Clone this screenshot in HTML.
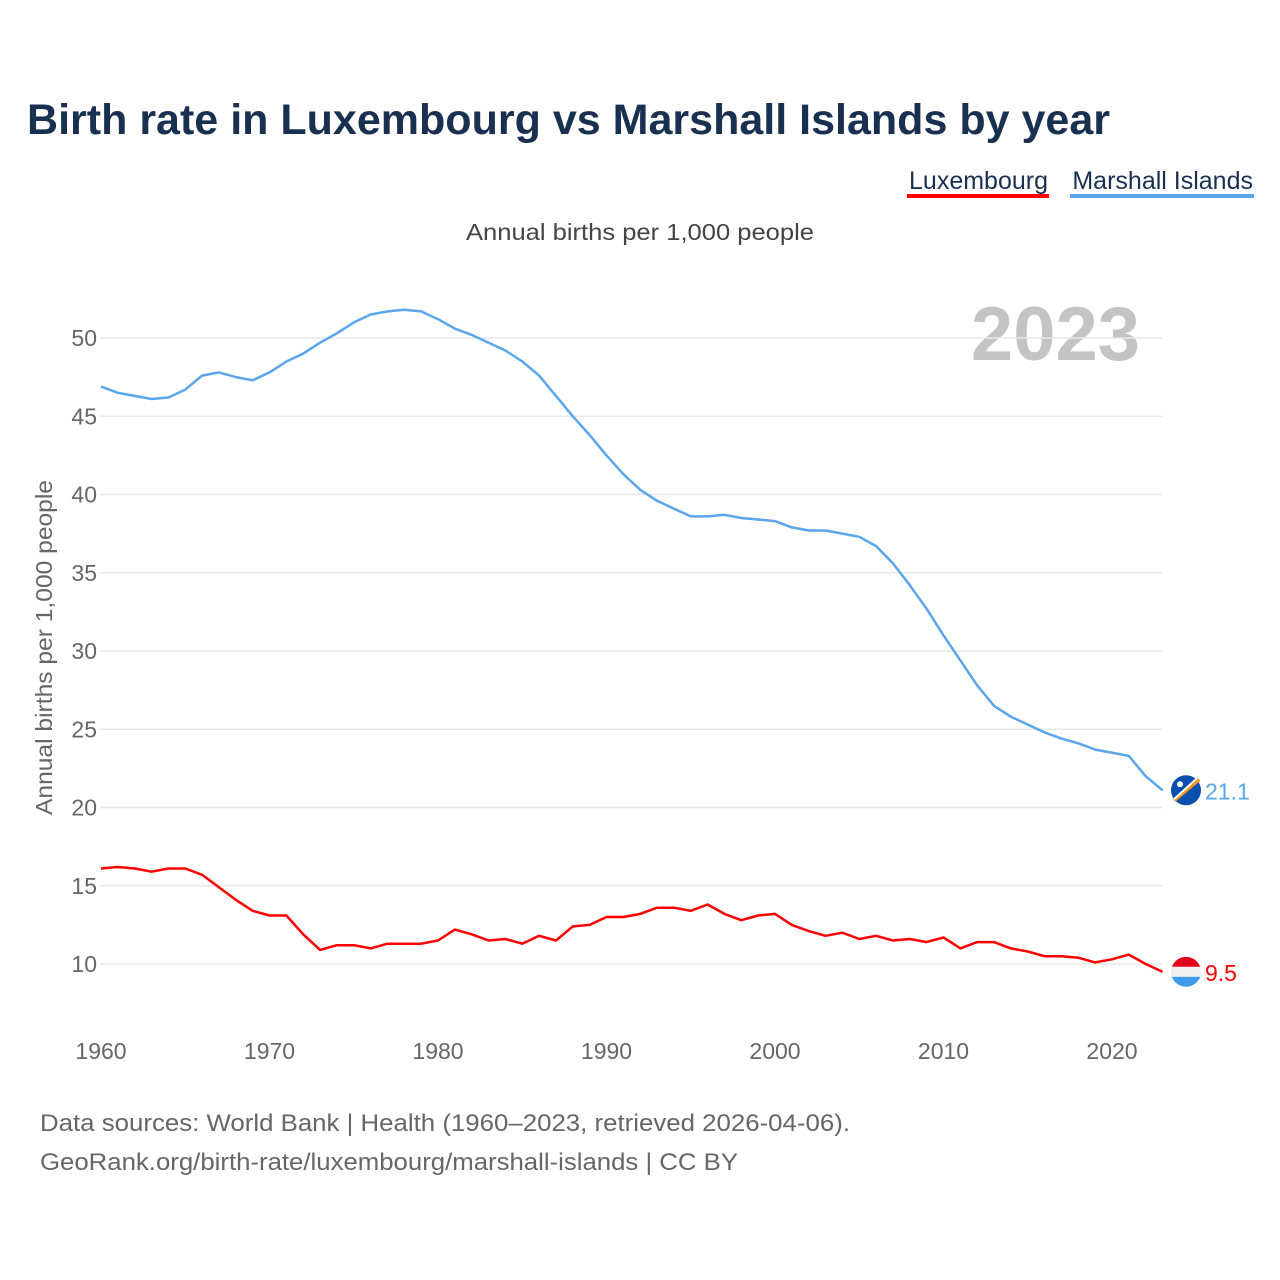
<!DOCTYPE html>
<html><head><meta charset="utf-8">
<style>
body{margin:0;background:#fff;font-family:"Liberation Sans",sans-serif;}
#wrap{position:relative;width:1280px;height:1280px;overflow:hidden;}
</style></head>
<body>
<div id="wrap">
<svg id="chart" width="1280" height="1280" style="position:absolute;left:0;top:0">
<text x="27" y="134" font-size="43" font-weight="bold" fill="#1a3050" textLength="1083" lengthAdjust="spacingAndGlyphs">Birth rate in Luxembourg vs Marshall Islands by year</text>
<g>
<text x="1048" y="189" font-size="25" fill="#1a3050" text-anchor="end">Luxembourg</text>
<rect x="907" y="194" width="142" height="4" fill="#ff0000"/>
<text x="1253" y="189" font-size="25" fill="#1a3050" text-anchor="end">Marshall Islands</text>
<rect x="1070" y="194" width="184" height="4" fill="#5aa5ec"/>
</g>
<text x="466" y="240" font-size="23" fill="#444" textLength="348" lengthAdjust="spacingAndGlyphs">Annual births per 1,000 people</text>
<text x="1140" y="360" font-size="76" font-weight="bold" fill="#c4c4c4" text-anchor="end">2023</text>
<text transform="translate(52,815) rotate(-90)" font-size="23" fill="#666" textLength="335" lengthAdjust="spacingAndGlyphs">Annual births per 1,000 people</text>
<g id="grid"></g><g id="yticks"></g><g id="xticks"></g><g id="lines"></g>
<text x="40" y="1131" font-size="24" fill="#666" textLength="810" lengthAdjust="spacingAndGlyphs">Data sources: World Bank | Health (1960–2023, retrieved 2026-04-06).</text>
<text x="40" y="1170" font-size="24" fill="#666" textLength="698" lengthAdjust="spacingAndGlyphs">GeoRank.org/birth-rate/luxembourg/marshall-islands | CC BY</text>
</svg>
</div>
<script>
const years = [];
for (let y = 1960; y <= 2023; y++) years.push(y);
const luxembourg = [16.1,16.2,16.1,15.9,16.1,16.1,15.7,14.9,14.1,13.4,
13.1,13.1,11.9,10.9,11.2,11.2,11.0,11.3,11.3,11.3,
11.5,12.2,11.9,11.5,11.6,11.3,11.8,11.5,12.4,12.5,
13.0,13.0,13.2,13.6,13.6,13.4,13.8,13.2,12.8,13.1,
13.2,12.5,12.1,11.8,12.0,11.6,11.8,11.5,11.6,11.4,
11.7,11.0,11.4,11.4,11.0,10.8,10.5,10.5,10.4,10.1,
10.3,10.6,10.0,9.5];
const marshall = [46.9,46.5,46.3,46.1,46.2,46.7,47.6,47.8,47.5,47.3,
47.8,48.5,49.0,49.7,50.3,51.0,51.5,51.7,51.8,51.7,
51.2,50.6,50.2,49.7,49.2,48.5,47.6,46.3,45.0,43.8,
42.5,41.3,40.3,39.6,39.1,38.6,38.6,38.7,38.5,38.4,
38.3,37.9,37.7,37.7,37.5,37.3,36.7,35.6,34.2,32.7,
31.0,29.4,27.8,26.5,25.8,25.3,24.8,24.4,24.1,23.7,
23.5,23.3,22.0,21.1];
const yTicks = [10,15,20,25,30,35,40,45,50];
const xTicks = [1960,1970,1980,1990,2000,2010,2020];
const NS = "http://www.w3.org/2000/svg";
const xS = v => 101 + (v - 1960) * (1112 - 101) / 60;
const yS = v => 964 - (v - 10) * (964 - 338) / 40;
function mk(tag, attrs, parent){const e=document.createElementNS(NS,tag);for(const k in attrs)e.setAttribute(k,attrs[k]);parent.appendChild(e);return e;}
const grid=document.getElementById('grid'), yt=document.getElementById('yticks'), xt=document.getElementById('xticks'), lines=document.getElementById('lines');
yTicks.forEach(t=>{
  const l=mk('line',{x1:100,x2:1162,y1:yS(t),y2:yS(t),stroke:'#e8e8e8','stroke-width':1.5},grid);
  
  
  const tx=mk('text',{x:97,y:yS(t)+8,'font-size':23,fill:'#666','text-anchor':'end'},yt);
  tx.textContent=t;
  
  
});
xTicks.forEach(t=>{
  const tx=mk('text',{x:xS(t),y:1059,'font-size':23,fill:'#666','text-anchor':'middle'},xt);
  tx.textContent=t;
  
  
});
function drawLine(vals,color,name){
  const d=vals.map((v,i)=>(i?'L':'M')+xS(years[i]).toFixed(1)+','+yS(v).toFixed(1)).join(' ');
  const p=mk('path',{d:d,fill:'none',stroke:color,'stroke-width':2.5,'stroke-linejoin':'round'},lines);
  
  
}
drawLine(marshall,'#5aa5ec','marshall-islands');
drawLine(luxembourg,'#ff0000','luxembourg');
const lastM=marshall[marshall.length-1], lastL=luxembourg[luxembourg.length-1];
const fx=1186;
const gm=mk('g',{},lines);


mk('circle',{cx:fx,cy:yS(lastM),r:15,fill:'#0a4fad'},gm);
mk('line',{x1:fx-12,x2:fx+13,y1:yS(lastM)+10,y2:yS(lastM)-11,stroke:'#f7941d','stroke-width':4},gm);
mk('line',{x1:fx-12,x2:fx+11,y1:yS(lastM)+9,y2:yS(lastM)-12,stroke:'#fff','stroke-width':2},gm);
mk('circle',{cx:fx-6,cy:yS(lastM)-6,r:3,fill:'#fff'},gm);
const tm=mk('text',{x:1205,y:yS(lastM)+9,'font-size':23,fill:'#5aa5ec'},lines);
tm.textContent=lastM.toFixed(1);


const gl=mk('g',{},lines);


const cy=yS(lastL);
mk('clipPath',{id:'lc'},gl);
mk('circle',{cx:fx,cy:cy,r:15},document.getElementById('lc'));
mk('rect',{x:fx-15,y:cy-15,width:30,height:10,fill:'#e3001b','clip-path':'url(#lc)'},gl);
mk('rect',{x:fx-15,y:cy-5,width:30,height:10,fill:'#f0f0f0','clip-path':'url(#lc)'},gl);
mk('rect',{x:fx-15,y:cy+5,width:30,height:10,fill:'#3d9be9','clip-path':'url(#lc)'},gl);
const tl=mk('text',{x:1205,y:cy+9,'font-size':23,fill:'#ff0000'},lines);
tl.textContent=lastL.toFixed(1);


</script>
</body></html>
